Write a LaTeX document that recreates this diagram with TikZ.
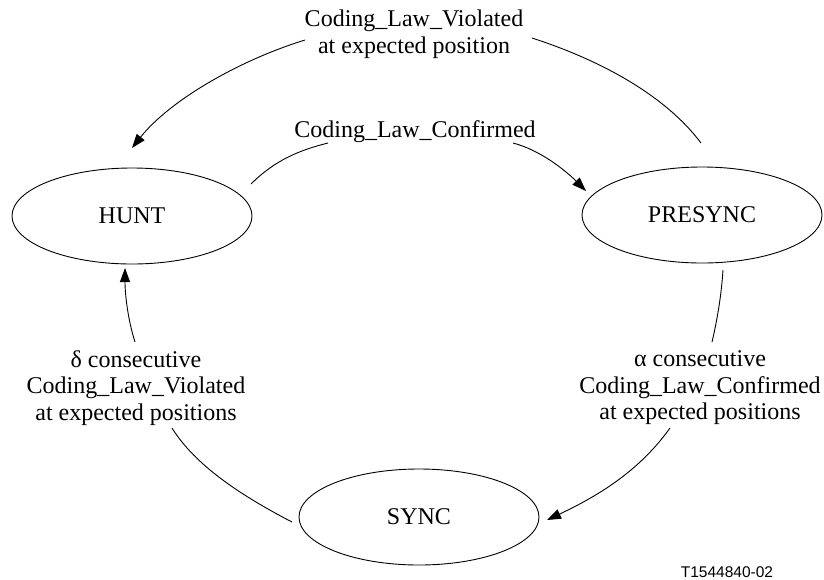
\documentclass[tikz,border=0pt]{standalone}
\usepackage{fontspec}
\setmainfont{Liberation Serif}
\setsansfont{Liberation Sans}
\usetikzlibrary{shapes.geometric,arrows.meta}
\begin{document}
\begin{tikzpicture}[x=1pt,y=-1pt,
  state/.style={ellipse,draw,line width=0.9pt,minimum width=240pt,minimum height=96pt,inner sep=0pt,font=\fontsize{24}{26.5}\selectfont},
  lbl/.style={align=center,inner sep=0pt,font=\fontsize{24}{26.5}\selectfont},
  conn/.style={line width=0.9pt},
  arr/.style={line width=0.9pt,-{Triangle[length=14pt,width=10pt]}}]
\useasboundingbox (0,0) rectangle (824,579);
% states
\node[state] (hunt) at (132,216) {HUNT};
\node[state] (presync) at (702,215) {PRESYNC};
\node[state] (sync) at (419,517) {SYNC};
% labels
\node[lbl] (labV) at (414,34.4) {Coding\_Law\_Violated\\at expected position};
\node[lbl,anchor=base] (labC) at (415,137) {Coding\_Law\_Confirmed};
\node[lbl] (labA) at (700,388) {α consecutive\\Coding\_Law\_Confirmed\\at expected positions};
\node[lbl] (labD) at (136,388) {δ consecutive\\Coding\_Law\_Violated\\at expected positions};
\node[inner sep=0pt,anchor=base,font=\fontsize{15.5}{18}\sffamily] (tag) at (727,577) {T1544840-02};
% connector end points
\coordinate (pV1) at (701,143);
\coordinate (pV2) at (532,38);
\coordinate (pV3) at (305,40);
\coordinate (pV4) at (132,148);
\coordinate (pC1) at (251,184);
\coordinate (pC2) at (328,143);
\coordinate (pC3) at (513,143);
\coordinate (pC4) at (586,191);
\coordinate (pA1) at (723,270);
\coordinate (pA2) at (712,342);
\coordinate (pA3) at (670,428);
\coordinate (pA4) at (547,520);
\coordinate (pD1) at (292,522);
\coordinate (pD2) at (172,428);
\coordinate (pD3) at (135,342);
\coordinate (pD4) at (125,268);
% PRESYNC -> HUNT
\draw[arr] (pV1) .. controls (665,95) and (600,60) .. (pV2)
           (pV3) .. controls (240,60) and (170,100) .. (pV4);
% HUNT -> PRESYNC
\draw[arr] (pC1) .. controls (275,160) and (300,150) .. (pC2)
           (pC3) .. controls (540,150) and (565,170) .. (pC4);
% PRESYNC -> SYNC
\draw[arr] (pA1) .. controls (721,300) and (716,325) .. (pA2)
           (pA3) .. controls (640,470) and (600,495) .. (pA4);
% SYNC -> HUNT
\draw[arr] (pD1) .. controls (240,495) and (195,465) .. (pD2)
           (pD3) .. controls (128,320) and (125,295) .. (pD4);
\end{tikzpicture}
\end{document}
